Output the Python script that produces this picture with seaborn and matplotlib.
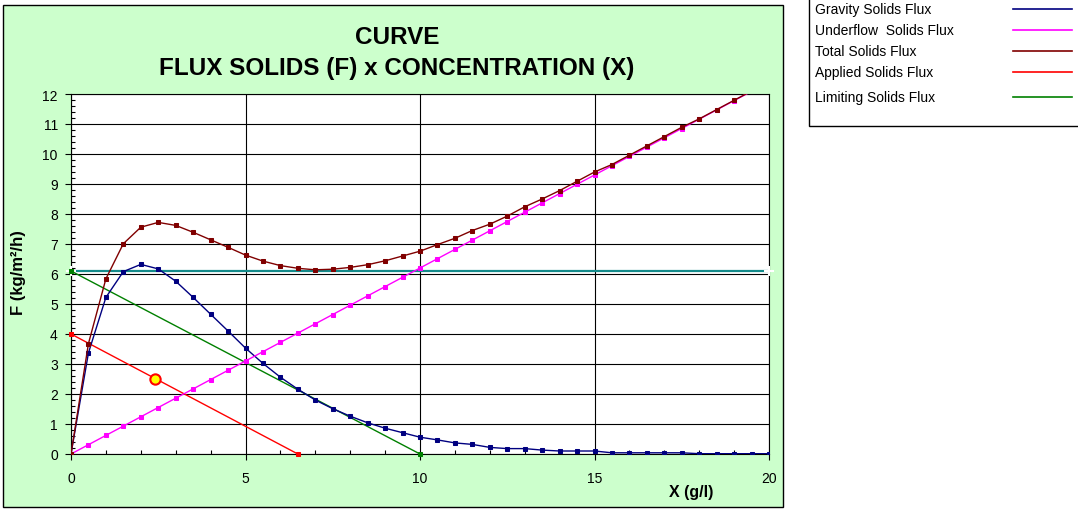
import numpy as np
import matplotlib
matplotlib.use("Agg")
import matplotlib.pyplot as plt
from matplotlib.patches import Rectangle
from matplotlib.lines import Line2D
from matplotlib.ticker import MultipleLocator
import seaborn as sns

plt.rcParams['font.family'] = ['Liberation Sans', 'DejaVu Sans']

# concentration X (g/l)
conc = [0, 0.5, 1, 1.5, 2, 2.5, 3, 3.5, 4, 4.5, 5, 5.5, 6, 6.5, 7, 7.5, 8, 8.5, 9, 9.5,
        10, 10.5, 11, 11.5, 12, 12.5, 13, 13.5, 14, 14.5, 15, 15.5, 16, 16.5, 17, 17.5,
        18, 18.5, 19, 19.5, 20]
gravity = [0, 3.37, 5.22, 6.08, 6.32, 6.17, 5.76, 5.22, 4.66, 4.10, 3.53, 3.02, 2.56,
           2.16, 1.80, 1.51, 1.26, 1.04, 0.86, 0.71, 0.56, 0.47, 0.37, 0.32, 0.22, 0.18,
           0.18, 0.13, 0.10, 0.10, 0.10, 0.04, 0.04, 0.04, 0.04, 0.04, 0.01, 0.01, 0.01,
           0.01, 0.01]
underflow = [0, 0.31, 0.62, 0.93, 1.24, 1.55, 1.86, 2.17, 2.48, 2.79, 3.10, 3.41, 3.72,
             4.03, 4.34, 4.65, 4.96, 5.27, 5.58, 5.89, 6.20, 6.51, 6.82, 7.13, 7.44, 7.75,
             8.06, 8.37, 8.68, 8.99, 9.30, 9.61, 9.92, 10.23, 10.54, 10.85, 11.16, 11.47,
             11.78, 12.09, 12.40]
total = list(np.array(gravity) + np.array(underflow))

applied_x = [0, 6.5]
applied_y = [4, 0]
limiting_x = [0, 10]
limiting_y = [6.1, 0]
flim_x = [0, 20]
flim_y = [6.1, 6.1]
op_x = [2.4]
op_y = [2.5]

legend_labels = ["Gravity Solids Flux", "Underflow  Solids Flux", "Total Solids Flux",
                 "Applied Solids Flux", "Limiting Solids Flux"]
legend_colors = ["#000080", "#FF00FF", "#800000", "#FF0000", "#008000"]

W, H = 1078, 510
fig = plt.figure(figsize=(W / 100, H / 100), dpi=100)
fig.patch.set_facecolor('white')
fig.patches.append(Rectangle((3 / W, 2 / H), 780 / W, 502 / H, transform=fig.transFigure,
                             facecolor='#CCFFCC', edgecolor='black', lw=1, zorder=-10))

ax = fig.add_axes([71 / W, 55 / H, 698 / W, 360 / H])
ax.set_facecolor('white')

sns.lineplot(x=conc, y=gravity, ax=ax, color='#000080', lw=1, marker='s', markersize=2.4,
             markeredgecolor='#000080', zorder=4)
sns.lineplot(x=conc, y=underflow, ax=ax, color='#FF00FF', lw=1, marker='s', markersize=3,
             markeredgecolor='#FF00FF', zorder=4)
sns.lineplot(x=conc, y=total, ax=ax, color='#800000', lw=1, marker='s', markersize=2.6,
             markeredgecolor='#800000', zorder=5)
sns.lineplot(x=applied_x, y=applied_y, ax=ax, color='#FF0000', lw=1, marker='s', markersize=3,
             markeredgecolor='#FF0000', zorder=3, clip_on=False)
sns.lineplot(x=flim_x, y=flim_y, ax=ax, color='#138A8A', lw=1.6, marker='+', markersize=7,
             markeredgewidth=1.5, zorder=3, clip_on=False)
sns.lineplot(x=limiting_x, y=limiting_y, ax=ax, color='#008000', lw=1, marker='s', markersize=3,
             markeredgecolor='#008000', zorder=3, clip_on=False)
sns.scatterplot(x=op_x, y=op_y, ax=ax, s=55, color='#FFFF00', edgecolor='#FF0000',
                linewidth=1.5, zorder=6)

ax.set_xlim(0, 20)
ax.set_ylim(0, 12)
ax.xaxis.set_major_locator(MultipleLocator(5))
ax.xaxis.set_minor_locator(MultipleLocator(1))
ax.yaxis.set_major_locator(MultipleLocator(1))
ax.yaxis.set_minor_locator(MultipleLocator(0.2))
ax.grid(True, which='major', color='black', lw=0.8)
ax.set_axisbelow(True)
ax.tick_params(axis='both', which='major', labelsize=10, length=4.5, width=0.8, direction='out')
ax.tick_params(axis='both', which='minor', length=3, width=0.8, direction='in')
ax.tick_params(axis='x', which='major', pad=8)
ax.tick_params(axis='y', which='major', pad=5)
for s in ax.spines.values():
    s.set_color('black')
    s.set_linewidth(0.8)
ax.set_xlabel('')
ax.set_ylabel('')

fig.text(397 / W, (H - 37) / H, "CURVE", ha='center', va='center', fontsize=17.5, fontweight='bold')
fig.text(397 / W, (H - 68) / H, "FLUX SOLIDS (F) x CONCENTRATION (X)", ha='center', va='center',
         fontsize=17.5, fontweight='bold')
fig.text(19 / W, (H - 273) / H, "F (kg/m²/h)", ha='center', va='center', rotation=90,
         fontsize=12, fontweight='bold')
fig.text(691 / W, (H - 493) / H, "X (g/l)", ha='center', va='center', fontsize=11.5,
         fontweight='bold')

# legend box
fig.patches.append(Rectangle((809 / W, (H - 127) / H), 300 / W, 140 / H, transform=fig.transFigure,
                             facecolor='white', edgecolor='black', lw=1, clip_on=False))
text_y = [10, 31, 52, 73, 98]
for lab, col, ty in zip(legend_labels, legend_colors, text_y):
    fig.text(815 / W, (H - ty) / H, lab, ha='left', va='center', fontsize=10)
    fig.lines.append(Line2D([1013 / W, 1072 / W], [(H - ty) / H] * 2, transform=fig.transFigure,
                            color=col, lw=1.2))

fig.savefig("out.png", dpi=100)
